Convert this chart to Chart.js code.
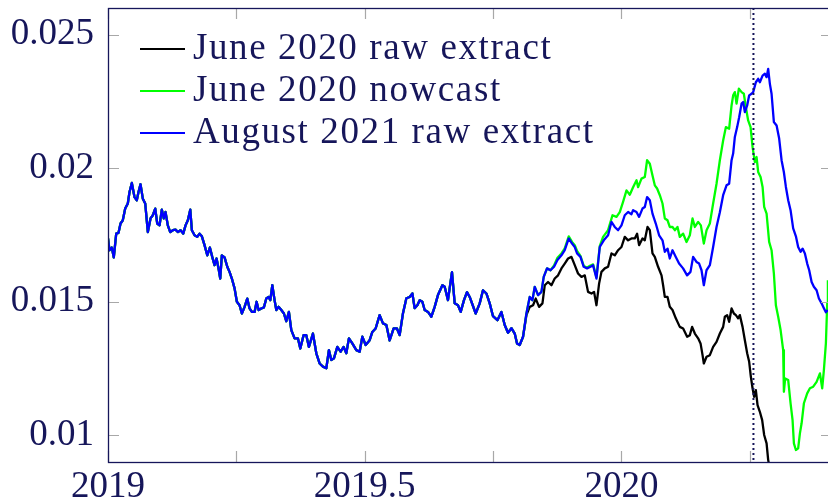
<!DOCTYPE html>
<html>
<head>
<meta charset="utf-8">
<script src="https://cdn.jsdelivr.net/npm/chart.js@4.4.0/dist/chart.umd.min.js"></script>
<style>
    html, body { margin: 0; padding: 0; background: #ffffff; overflow: hidden; }
    #wrap { width: 834px; height: 503px; }
</style>
</head>
<body>
<div id="wrap"><canvas id="myChart" width="834" height="503"></canvas></div>
<script>
// part of the curve where all three series coincide
const sharedYears = [
    2019.0000, 2019.0029, 2019.0074, 2019.0113, 2019.0160, 2019.0205, 2019.0244, 2019.0288, 2019.0335, 2019.0386,
    2019.0419, 2019.0464, 2019.0516, 2019.0561, 2019.0594, 2019.0633, 2019.0678, 2019.0725, 2019.0776, 2019.0828,
    2019.0873, 2019.0920, 2019.0959, 2019.1004, 2019.1048, 2019.1087, 2019.1120, 2019.1165, 2019.1212, 2019.1263,
    2019.1315, 2019.1360, 2019.1413, 2019.1465, 2019.1510, 2019.1555, 2019.1602, 2019.1633, 2019.1686, 2019.1738,
    2019.1783, 2019.1828, 2019.1880, 2019.1933, 2019.1984, 2019.2030, 2019.2075, 2019.2114, 2019.2159, 2019.2186,
    2019.2217, 2019.2270, 2019.2323, 2019.2367, 2019.2412, 2019.2465, 2019.2510, 2019.2562, 2019.2607, 2019.2660,
    2019.2712, 2019.2757, 2019.2802, 2019.2855, 2019.2894, 2019.2933, 2019.2985, 2019.3036, 2019.3083, 2019.3128,
    2019.3161, 2019.3200, 2019.3244, 2019.3278, 2019.3322, 2019.3375, 2019.3426, 2019.3472, 2019.3523, 2019.3570,
    2019.3634, 2019.3698, 2019.3745, 2019.3809, 2019.3862, 2019.3913, 2019.3991, 2019.4057, 2019.4121, 2019.4186,
    2019.4252, 2019.4302, 2019.4349, 2019.4400, 2019.4466, 2019.4530, 2019.4589, 2019.4641, 2019.4692, 2019.4758,
    2019.4836, 2019.4901, 2019.4953, 2019.5018, 2019.5096, 2019.5148, 2019.5212, 2019.5290, 2019.5355, 2019.5421,
    2019.5485, 2019.5563, 2019.5627, 2019.5680, 2019.5744, 2019.5811, 2019.5875, 2019.5928, 2019.5972, 2019.6025,
    2019.6070, 2019.6122, 2019.6167, 2019.6232, 2019.6298, 2019.6362, 2019.6426, 2019.6512, 2019.6557, 2019.6621,
    2019.6699, 2019.6752, 2019.6816, 2019.6869, 2019.6933, 2019.6991, 2019.7044, 2019.7161, 2019.7239, 2019.7303,
    2019.7369, 2019.7434, 2019.7498, 2019.7584, 2019.7662, 2019.7726, 2019.7790, 2019.7857, 2019.7921, 2019.7966,
    2019.8018, 2019.8083
];
const sharedValues = [
    0.01737, 0.01693, 0.01703, 0.01666, 0.01755, 0.01758, 0.01793, 0.01805, 0.01849, 0.01868,
    0.01911, 0.01945, 0.01892, 0.01880, 0.01911, 0.01940, 0.01886, 0.01868, 0.01761, 0.01812,
    0.01824, 0.01849, 0.01793, 0.01786, 0.01845, 0.01812, 0.01836, 0.01786, 0.01761, 0.01768,
    0.01770, 0.01761, 0.01768, 0.01755, 0.01786, 0.01805, 0.01845, 0.01768, 0.01749, 0.01743,
    0.01755, 0.01745, 0.01712, 0.01674, 0.01703, 0.01668, 0.01637, 0.01662, 0.01618, 0.01587,
    0.01674, 0.01666, 0.01631, 0.01612, 0.01587, 0.01550, 0.01500, 0.01487, 0.01456, 0.01481,
    0.01512, 0.01475, 0.01462, 0.01462, 0.01500, 0.01469, 0.01475, 0.01479, 0.01512, 0.01518,
    0.01506, 0.01562, 0.01506, 0.01469, 0.01481, 0.01469, 0.01456, 0.01427, 0.01462, 0.01394,
    0.01363, 0.01363, 0.01325, 0.01375, 0.01375, 0.01331, 0.01381, 0.01307, 0.01269, 0.01257,
    0.01251, 0.01319, 0.01282, 0.01288, 0.01331, 0.01313, 0.01331, 0.01307, 0.01363, 0.01344,
    0.01319, 0.01313, 0.01369, 0.01338, 0.01356, 0.01387, 0.01400, 0.01450, 0.01419, 0.01413,
    0.01355, 0.01400, 0.01400, 0.01375, 0.01456, 0.01513, 0.01518, 0.01531, 0.01476, 0.01487,
    0.01506, 0.01500, 0.01469, 0.01462, 0.01444, 0.01481, 0.01525, 0.01562, 0.01556, 0.01506,
    0.01611, 0.01494, 0.01487, 0.01462, 0.01506, 0.01536, 0.01518, 0.01456, 0.01494, 0.01543,
    0.01531, 0.01494, 0.01446, 0.01431, 0.01462, 0.01413, 0.01384, 0.01401, 0.01381, 0.01344,
    0.01338, 0.01369
];

// June 2020 raw extract, after the split
const blackYears = [
    2019.8149, 2019.8213, 2019.8278, 2019.8330, 2019.8395, 2019.8461, 2019.8506, 2019.8570, 2019.8636, 2019.8700,
    2019.8765, 2019.8831, 2019.8895, 2019.8960, 2019.9026, 2019.9090, 2019.9154, 2019.9221, 2019.9285, 2019.9349,
    2019.9416, 2019.9466, 2019.9513, 2019.9564, 2019.9610, 2019.9675, 2019.9739, 2019.9805, 2019.9870, 2019.9934,
    2020.0000, 2020.0064, 2020.0129, 2020.0195, 2020.0259, 2020.0304, 2020.0343, 2020.0409, 2020.0454, 2020.0507,
    2020.0552, 2020.0604, 2020.0649, 2020.0713, 2020.0780, 2020.0811, 2020.0844, 2020.0897, 2020.0941, 2020.0994,
    2020.1058, 2020.1136, 2020.1201, 2020.1279, 2020.1331, 2020.1376, 2020.1429, 2020.1493, 2020.1540, 2020.1579,
    2020.1604, 2020.1657, 2020.1721, 2020.1785, 2020.1851, 2020.1916, 2020.1980, 2020.2013, 2020.2058, 2020.2097,
    2020.2144, 2020.2189, 2020.2228, 2020.2272, 2020.2305, 2020.2358, 2020.2403, 2020.2448, 2020.2487, 2020.2520,
    2020.2553, 2020.2584, 2020.2617, 2020.2650, 2020.2695, 2020.2740, 2020.2779, 2020.2826, 2020.2857, 2020.2900
];
const blackValues = [
    0.01450, 0.01481, 0.01487, 0.01512, 0.01481, 0.01494, 0.01562, 0.01574, 0.01562, 0.01587,
    0.01599, 0.01625, 0.01643, 0.01662, 0.01668, 0.01637, 0.01606, 0.01593, 0.01599, 0.01537,
    0.01531, 0.01537, 0.01487, 0.01568, 0.01612, 0.01625, 0.01631, 0.01681, 0.01674, 0.01693,
    0.01705, 0.01743, 0.01730, 0.01737, 0.01737, 0.01755, 0.01712, 0.01737, 0.01730, 0.01780,
    0.01768, 0.01681, 0.01668, 0.01631, 0.01599, 0.01562, 0.01518, 0.01518, 0.01481, 0.01469,
    0.01438, 0.01406, 0.01400, 0.01369, 0.01375, 0.01406, 0.01381, 0.01363, 0.01344, 0.01300,
    0.01269, 0.01294, 0.01300, 0.01331, 0.01350, 0.01381, 0.01406, 0.01444, 0.01450, 0.01425,
    0.01475, 0.01456, 0.01450, 0.01438, 0.01450, 0.01406, 0.01356, 0.01307, 0.01275, 0.01219,
    0.01176, 0.01144, 0.01169, 0.01113, 0.01088, 0.01057, 0.01001, 0.00970, 0.00908, 0.00863
];

// June 2020 nowcast, after the split
const greenYears = [
    2019.8149, 2019.8213, 2019.8266, 2019.8311, 2019.8375, 2019.8441, 2019.8486, 2019.8550, 2019.8617, 2019.8687,
    2019.8753, 2019.8831, 2019.8895, 2019.8973, 2019.9037, 2019.9090, 2019.9135, 2019.9201, 2019.9265, 2019.9330,
    2019.9396, 2019.9447, 2019.9513, 2019.9577, 2019.9642, 2019.9739, 2019.9825, 2019.9903, 2019.9967, 2020.0031,
    2020.0098, 2020.0162, 2020.0226, 2020.0293, 2020.0324, 2020.0390, 2020.0454, 2020.0499, 2020.0552, 2020.0604,
    2020.0649, 2020.0694, 2020.0747, 2020.0799, 2020.0844, 2020.0897, 2020.0941, 2020.0994, 2020.1039, 2020.1091,
    2020.1136, 2020.1201, 2020.1267, 2020.1331, 2020.1384, 2020.1429, 2020.1493, 2020.1546, 2020.1604, 2020.1657,
    2020.1721, 2020.1785, 2020.1851, 2020.1916, 2020.1980, 2020.2033, 2020.2097, 2020.2144, 2020.2175, 2020.2208,
    2020.2241, 2020.2286, 2020.2339, 2020.2383, 2020.2422, 2020.2467, 2020.2514, 2020.2553, 2020.2598, 2020.2631,
    2020.2662, 2020.2709, 2020.2748, 2020.2779, 2020.2826, 2020.2876, 2020.2923, 2020.2968, 2020.3007, 2020.3052,
    2020.3099, 2020.3149, 2020.3163, 2020.3188, 2020.3247, 2020.3293, 2020.3332, 2020.3358, 2020.3397, 2020.3441,
    2020.3475, 2020.3508, 2020.3553, 2020.3617, 2020.3670, 2020.3734, 2020.3800, 2020.3865, 2020.3909, 2020.3942,
    2020.3981, 2020.4007, 2020.4020
];
const greenValues = [
    0.01456, 0.01518, 0.01506, 0.01556, 0.01525, 0.01537, 0.01593, 0.01625, 0.01618, 0.01636,
    0.01665, 0.01681, 0.01700, 0.01745, 0.01724, 0.01712, 0.01690, 0.01672, 0.01634, 0.01628,
    0.01636, 0.01640, 0.01592, 0.01708, 0.01743, 0.01768, 0.01824, 0.01818, 0.01836, 0.01874,
    0.01917, 0.01901, 0.01929, 0.01955, 0.01929, 0.01961, 0.01967, 0.02030, 0.02017, 0.01973,
    0.01936, 0.01924, 0.01899, 0.01868, 0.01812, 0.01805, 0.01780, 0.01780, 0.01768, 0.01780,
    0.01743, 0.01755, 0.01724, 0.01749, 0.01812, 0.01780, 0.01799, 0.01786, 0.01718, 0.01768,
    0.01793, 0.01868, 0.01942, 0.02030, 0.02104, 0.02154, 0.02148, 0.02235, 0.02273, 0.02285,
    0.02242, 0.02298, 0.02285, 0.02279, 0.02229, 0.02179, 0.02154, 0.02079, 0.02023, 0.02042,
    0.01986, 0.01967, 0.01930, 0.01855, 0.01830, 0.01724, 0.01693, 0.01606, 0.01487, 0.01444,
    0.01394, 0.01319, 0.01163, 0.01213, 0.01207, 0.01120, 0.01057, 0.00970, 0.00945, 0.00951,
    0.01007, 0.01045, 0.01120, 0.01157, 0.01176, 0.01182, 0.01200, 0.01232, 0.01176, 0.01244,
    0.01344, 0.01494, 0.01581
];

// August 2021 raw extract, after the split
const blueYears = [
    2019.8149, 2019.8213, 2019.8266, 2019.8311, 2019.8375, 2019.8441, 2019.8486, 2019.8550, 2019.8617, 2019.8687,
    2019.8753, 2019.8831, 2019.8895, 2019.8973, 2019.9037, 2019.9090, 2019.9135, 2019.9201, 2019.9265, 2019.9330,
    2019.9396, 2019.9447, 2019.9513, 2019.9577, 2019.9655, 2019.9739, 2019.9805, 2019.9869, 2019.9934, 2020.0000,
    2020.0064, 2020.0129, 2020.0195, 2020.0226, 2020.0292, 2020.0343, 2020.0409, 2020.0454, 2020.0499, 2020.0552,
    2020.0604, 2020.0668, 2020.0733, 2020.0799, 2020.0844, 2020.0897, 2020.0941, 2020.0994, 2020.1058, 2020.1122,
    2020.1200, 2020.1278, 2020.1344, 2020.1395, 2020.1461, 2020.1512, 2020.1559, 2020.1604, 2020.1656, 2020.1721,
    2020.1785, 2020.1851, 2020.1916, 2020.1980, 2020.2046, 2020.2097, 2020.2144, 2020.2175, 2020.2208, 2020.2253,
    2020.2292, 2020.2339, 2020.2370, 2020.2403, 2020.2448, 2020.2487, 2020.2533, 2020.2565, 2020.2617, 2020.2662,
    2020.2695, 2020.2748, 2020.2793, 2020.2826, 2020.2857, 2020.2890, 2020.2923, 2020.2968, 2020.3021, 2020.3071,
    2020.3118, 2020.3163, 2020.3202, 2020.3247, 2020.3293, 2020.3344, 2020.3397, 2020.3441, 2020.3488, 2020.3527,
    2020.3572, 2020.3617, 2020.3656, 2020.3703, 2020.3747, 2020.3800, 2020.3845, 2020.3897, 2020.3942, 2020.3981,
    2020.4020
];
const blueValues = [
    0.01456, 0.01518, 0.01506, 0.01556, 0.01525, 0.01537, 0.01593, 0.01625, 0.01618, 0.01631,
    0.01656, 0.01674, 0.01693, 0.01737, 0.01718, 0.01705, 0.01681, 0.01668, 0.01631, 0.01625,
    0.01631, 0.01637, 0.01587, 0.01705, 0.01730, 0.01749, 0.01799, 0.01780, 0.01768, 0.01786,
    0.01824, 0.01836, 0.01828, 0.01843, 0.01836, 0.01818, 0.01849, 0.01855, 0.01892, 0.01880,
    0.01830, 0.01793, 0.01749, 0.01730, 0.01687, 0.01699, 0.01662, 0.01693, 0.01668, 0.01643,
    0.01625, 0.01599, 0.01612, 0.01668, 0.01649, 0.01643, 0.01618, 0.01562, 0.01618, 0.01637,
    0.01705, 0.01780, 0.01835, 0.01899, 0.01936, 0.01942, 0.02030, 0.02055, 0.02117, 0.02154,
    0.02191, 0.02242, 0.02248, 0.02210, 0.02235, 0.02273, 0.02279, 0.02285, 0.02322, 0.02335,
    0.02322, 0.02347, 0.02354, 0.02341, 0.02372, 0.02316, 0.02279, 0.02173, 0.02160, 0.02111,
    0.02030, 0.01985, 0.01930, 0.01880, 0.01843, 0.01775, 0.01745, 0.01705, 0.01687, 0.01699,
    0.01681, 0.01643, 0.01618, 0.01574, 0.01556, 0.01543, 0.01512, 0.01494, 0.01476, 0.01461,
    0.01469
];

const seriesNames = ["June 2020 raw extract", "June 2020 nowcast", "August 2021 raw extract"];
const seriesColors = ["#000000", "#00ff00", "#0000ff"];

const xTicks = [2019, 2019.25, 2019.5, 2019.75, 2020, 2020.25];
const xLabelled = [2019, 2019.5, 2020];
const yTicks = [0.01, 0.015, 0.02, 0.025];
const markerYear = 2020.257;

const inkColor = "#16165a";
const tickColor = "#a8a8a8";
const fontFamily = '"Liberation Serif", "DejaVu Serif", serif';

function toPoints(years, values) {
    return years.map((x, i) => ({x: x, y: values[i]}));
}

let blackData = toPoints(sharedYears, sharedValues).concat(toPoints(blackYears, blackValues));
let greenData = toPoints(sharedYears, sharedValues).concat(toPoints(greenYears, greenValues));
let blueData = toPoints(sharedYears, sharedValues).concat(toPoints(blueYears, blueValues));

// frame, inward ticks, dotted marker and legend
const framePlugin = {
    id: "frame",
    afterDatasetsDraw(chart) {
        const ctx = chart.ctx;
        const area = chart.chartArea;
        const xs = chart.scales.x;
        const ys = chart.scales.y;
        const tl = 11;
        ctx.save();

        ctx.strokeStyle = tickColor;
        ctx.lineWidth = 1.2;
        ctx.beginPath();
        xTicks.forEach((v) => {
            let px = Math.round(xs.getPixelForValue(v)) + 0.5;
            ctx.moveTo(px, area.bottom);
            ctx.lineTo(px, area.bottom - tl);
            ctx.moveTo(px, area.top);
            ctx.lineTo(px, area.top + tl);
        });
        yTicks.forEach((v) => {
            let py = Math.round(ys.getPixelForValue(v)) + 0.5;
            ctx.moveTo(area.left, py);
            ctx.lineTo(area.left + tl, py);
            ctx.moveTo(area.right, py);
            ctx.lineTo(area.right - tl, py);
        });
        ctx.stroke();

        let mx = xs.getPixelForValue(markerYear);
        ctx.strokeStyle = inkColor;
        ctx.lineWidth = 2;
        ctx.setLineDash([2, 3]);
        ctx.beginPath();
        ctx.moveTo(mx, area.top);
        ctx.lineTo(mx, area.bottom);
        ctx.stroke();
        ctx.setLineDash([]);

        ctx.strokeStyle = inkColor;
        ctx.lineWidth = 1.3;
        ctx.strokeRect(area.left + 0.5, area.top + 0.5, area.right - area.left, area.bottom - area.top);

        ctx.font = "37px " + fontFamily;
        ctx.letterSpacing = "1.6px";
        ctx.textAlign = "left";
        ctx.textBaseline = "alphabetic";
        for (let i = 0; i < seriesNames.length; i++) {
            let ly = 49 + 42 * i;
            ctx.strokeStyle = seriesColors[i];
            ctx.lineWidth = 1.8;
            ctx.beginPath();
            ctx.moveTo(140, ly);
            ctx.lineTo(185, ly);
            ctx.stroke();
            ctx.fillStyle = inkColor;
            ctx.fillText(seriesNames[i], 193, ly + 10);
        }
        ctx.restore();
    }
};

let ctx = document.getElementById("myChart").getContext("2d");
window.myChart = new Chart(ctx, {
    type: "line",
    data: {
        datasets: [{
            label: seriesNames[0],
            data: blackData,
            borderColor: seriesColors[0],
            order: 3
        }, {
            label: seriesNames[1],
            data: greenData,
            borderColor: seriesColors[1],
            order: 2
        }, {
            label: seriesNames[2],
            data: blueData,
            borderColor: seriesColors[2],
            order: 1
        }]
    },
    options: {
        responsive: false,
        devicePixelRatio: 1,
        animation: false,
        layout: {
            padding: {top: 8, right: 2, left: 0, bottom: 0}
        },
        elements: {
            line: {borderWidth: 2.3, tension: 0, fill: false, borderJoinStyle: "round"},
            point: {radius: 0}
        },
        plugins: {
            legend: {display: false},
            tooltip: {enabled: false}
        },
        scales: {
            x: {
                type: "linear",
                min: 2019,
                max: 2020.41,
                grid: {display: false, drawTicks: false},
                border: {display: false},
                afterBuildTicks: (scale) => {
                    scale.ticks = xTicks.map((v) => ({value: v}));
                },
                afterFit: (scale) => {
                    scale.height = 41;
                    scale.paddingLeft = 0;
                    scale.paddingRight = 0;
                },
                ticks: {
                    autoSkip: false,
                    maxRotation: 0,
                    padding: 3,
                    color: inkColor,
                    font: {family: fontFamily, size: 37},
                    callback: (v) => xLabelled.includes(v) ? String(v) : ""
                }
            },
            y: {
                min: 0.009,
                max: 0.026,
                grid: {display: false, drawTicks: false},
                border: {display: false},
                afterBuildTicks: (scale) => {
                    scale.ticks = yTicks.map((v) => ({value: v}));
                },
                afterFit: (scale) => {
                    scale.width = 108;
                    scale.paddingTop = 0;
                    scale.paddingBottom = 0;
                },
                ticks: {
                    padding: 14,
                    color: inkColor,
                    font: {family: fontFamily, size: 37},
                    callback: (v) => String(v)
                }
            }
        }
    },
    plugins: [framePlugin]
});
</script>
</body>
</html>
